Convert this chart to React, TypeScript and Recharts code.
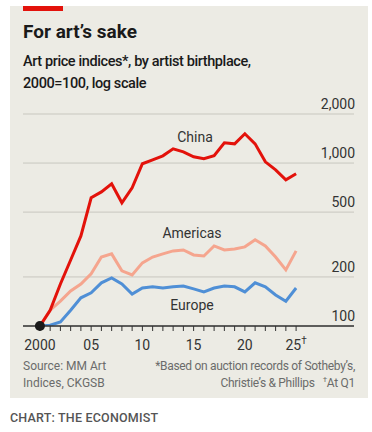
import React from 'react';
import { LineChart, Line, XAxis, YAxis, CartesianGrid, ReferenceDot } from 'recharts';

const years = [
  2000, 2001, 2002, 2003, 2004, 2005, 2006, 2007, 2008, 2009, 2010, 2011, 2012,
  2013, 2014, 2015, 2016, 2017, 2018, 2019, 2020, 2021, 2022, 2023, 2024, 2025,
];
const china = [
  100, 125, 181, 254, 357, 612, 665, 745, 570, 705, 990, 1047, 1108,
  1223, 1172, 1092, 1062, 1108, 1331, 1312, 1512, 1312, 1017, 909, 789, 859,
];
const americas = [
  100, 125, 142, 164, 181, 209, 265, 277, 218, 206, 244, 265, 277,
  289, 293, 273, 269, 310, 293, 297, 306, 338, 310, 265, 221, 289,
];
const europe = [
  100, 101, 106, 125, 149, 160, 184, 197, 181, 157, 171, 174, 171,
  174, 176, 169, 162, 171, 176, 174, 162, 184, 174, 155, 142, 171,
];
const yTicks = [100, 200, 500, 1000, 2000];

const data = years.map((year, i) => ({
  year,
  china: china[i],
  americas: americas[i],
  europe: europe[i],
}));

const FONT = 'Roboto, "Noto Sans", sans-serif';
const INK = '#333333';

const YearTick = (props: any) => {
  const { x, y, payload } = props;
  const v = Number(payload.value);
  if (v % 5 !== 0) return <g />;
  const label = v === 2000 ? '2000' : String(v % 100).padStart(2, '0');
  return (
    <text x={x} y={y + 17} textAnchor="middle" fontSize={14} fill={INK} fontFamily={FONT}>
      {label}
      {v === 2025 && (
        <tspan fontSize={10} dy={-6}>†</tspan>
      )}
    </text>
  );
};

const ValueTick = (props: any) => {
  const { y, payload } = props;
  const label = Number(payload.value).toLocaleString('en-US');
  return (
    <text x={355} y={Number(y) - 5} textAnchor="end" fontSize={14} fill={INK} fontFamily={FONT}>
      {label}
    </text>
  );
};

const SeriesLabel: React.FC<{ x: number; y: number; text: string }> = ({ x, y, text }) => (
  <div
    style={{
      position: 'absolute',
      left: x - 50,
      top: y - 9,
      width: 100,
      textAlign: 'center',
      fontSize: 14,
      lineHeight: '18px',
      color: INK,
      fontFamily: FONT,
    }}
  >
    {text}
  </div>
);

export default function App() {
  return (
    <div style={{ position: 'absolute', left: 0, top: 0, width: 372, height: 432, background: '#fff', fontFamily: FONT }}>
      <div style={{ position: 'absolute', left: 10, top: 6, width: 358, height: 392, background: '#ecebe4' }} />
      <div style={{ position: 'absolute', left: 23, top: 6, width: 40, height: 5, background: '#e3120b' }} />
      <div style={{ position: 'absolute', left: 23, top: 20, fontSize: 19, fontWeight: 700, color: '#1a1a1a', lineHeight: '24px' }}>
        For art’s sake
      </div>
      <div style={{ position: 'absolute', left: 23, top: 51, fontSize: 14.5, fontWeight: 500, color: '#1a1a1a', lineHeight: '22px', letterSpacing: -0.4, whiteSpace: 'nowrap' }}>
        Art price indices*, by artist birthplace,
        <br />
        2000=100, log scale
      </div>

      <div style={{ position: 'absolute', left: 0, top: 0 }}>
        <LineChart
          width={372}
          height={432}
          data={data}
          margin={{ top: 114, right: 17, bottom: 86, left: 23 }}
        >
          <CartesianGrid vertical={false} stroke="#c8c7bf" strokeWidth={1} />
          <XAxis
            dataKey="year"
            type="number"
            domain={[1998.35, 2030.65]}
            allowDataOverflow
            ticks={years}
            interval={0}
            height={20}
            axisLine={{ stroke: INK, strokeWidth: 1.5 }}
            tickLine={{ stroke: INK, strokeWidth: 1 }}
            tickSize={5}
            tick={<YearTick />}
          />
          <YAxis
            scale="log"
            domain={[100, 2000]}
            ticks={yTicks}
            interval={0}
            allowDataOverflow
            orientation="right"
            width={1}
            axisLine={false}
            tickLine={false}
            tick={ValueTick}
          />
          <Line dataKey="europe" stroke="#4f8fd6" strokeWidth={3} dot={false} isAnimationActive={false} />
          <Line dataKey="americas" stroke="#f5a58e" strokeWidth={3} dot={false} isAnimationActive={false} />
          <Line dataKey="china" stroke="#e3120b" strokeWidth={3} dot={false} isAnimationActive={false} />
          <ReferenceDot x={2000} y={100} r={5} fill="#1a1a1a" stroke="none" />
        </LineChart>
      </div>

      <SeriesLabel x={195} y={137} text="China" />
      <SeriesLabel x={192} y={233} text="Americas" />
      <SeriesLabel x={192} y={305} text="Europe" />

      <div style={{ position: 'absolute', left: 23, top: 358, fontSize: 12, color: '#6b6b6b', lineHeight: '17px' }}>
        Source: MM Art
        <br />
        Indices, CKGSB
      </div>
      <div style={{ position: 'absolute', right: 17, top: 358, fontSize: 12, color: '#6b6b6b', lineHeight: '17px', textAlign: 'right', letterSpacing: -0.3, whiteSpace: 'nowrap' }}>
        *Based on auction records of Sotheby’s,
        <br />
        Christie’s &amp; Phillips&nbsp;&nbsp;&nbsp;<sup style={{ fontSize: 8, lineHeight: 0 }}>†</sup>At Q1
      </div>
      <div style={{ position: 'absolute', left: 10, top: 410, fontSize: 12.5, color: '#555', fontWeight: 500, letterSpacing: 0.2 }}>
        CHART: THE ECONOMIST
      </div>
    </div>
  );
}
